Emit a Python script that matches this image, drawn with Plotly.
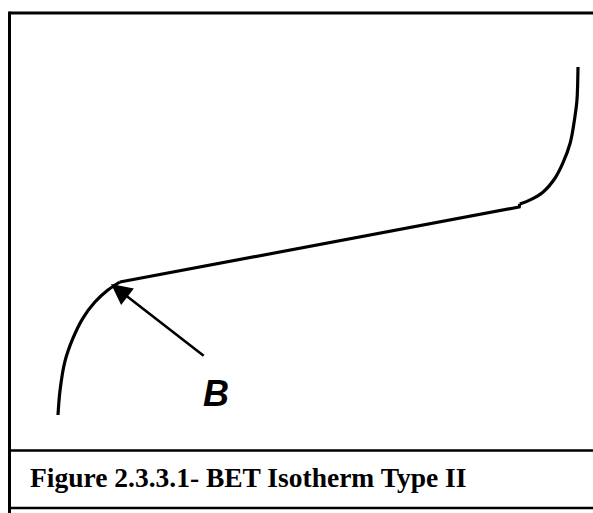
import plotly.graph_objects as go

# Relative pressure P/P0 and adsorbed amount (in monolayer units, B = 1)
p_low = [0.000, 0.004, 0.013, 0.029, 0.048, 0.071, 0.096, 0.119]
v_low = [0.000, 0.188, 0.398, 0.579, 0.729, 0.850, 0.940, 1.000]

p_mid = [0.119, 0.887, 0.888]
v_mid = [1.000, 1.564, 1.586]

p_high = [0.888, 0.908, 0.933, 0.956, 0.971, 0.985, 0.994, 0.998, 1.000]
v_high = [1.586, 1.617, 1.677, 1.782, 1.895, 2.045, 2.241, 2.368, 2.617]

point_b = (0.102, 0.985)
label_b = (0.303, 0.158)
arrow_tail = (0.283, 0.436)
caption = "Figure 2.3.3.1- BET Isotherm Type II"

W, H = 593, 513
fig = go.Figure()
line = dict(color="black", width=3.2)
fig.add_trace(go.Scatter(x=p_low, y=v_low, mode="lines", line=dict(color="black", width=3.2, shape="spline"), hoverinfo="skip"))
fig.add_trace(go.Scatter(x=p_mid, y=v_mid, mode="lines", line=line, hoverinfo="skip"))
fig.add_trace(go.Scatter(x=p_high, y=v_high, mode="lines", line=dict(color="black", width=3.2, shape="spline"), hoverinfo="skip"))

fig.add_annotation(x=point_b[0], y=point_b[1], xref="x", yref="y",
                   ax=arrow_tail[0], ay=arrow_tail[1], axref="x", ayref="y",
                   showarrow=True, arrowhead=2, arrowsize=1.6, arrowwidth=2.6,
                   arrowcolor="black", text="")
fig.add_annotation(x=label_b[0], y=label_b[1], xref="x", yref="y", showarrow=False,
                   text="<b><i>B</i></b>",
                   font=dict(family="Liberation Sans, Arial", size=36, color="black"))
fig.add_annotation(x=28 / W, y=1 - 477 / H, xref="paper", yref="paper", showarrow=False,
                   xanchor="left", yanchor="middle", text="<b>" + caption + "</b>",
                   font=dict(family="Liberation Serif, Times New Roman", size=27.5, color="black"))

def hline(y, w):
    return dict(type="line", xref="paper", yref="paper", x0=9.5 / W, x1=1.01,
                y0=1 - y / H, y1=1 - y / H, line=dict(color="black", width=w))

fig.update_layout(
    width=W, height=H, margin=dict(l=0, r=0, t=0, b=0),
    paper_bgcolor="white", plot_bgcolor="white", showlegend=False,
    xaxis=dict(range=[-58 / 520, 535 / 520], visible=False, fixedrange=True),
    yaxis=dict(range=[(415 - 513) / 133, 415 / 133], visible=False, fixedrange=True),
    shapes=[
        hline(13, 3), hline(450.5, 2.5), hline(508, 2.5),
        dict(type="line", xref="paper", yref="paper", x0=9.5 / W, x1=9.5 / W,
             y0=-0.01, y1=1 - 11.5 / H, line=dict(color="black", width=3)),
    ],
)
fig.write_html("out.html", config={"displayModeBar": False},
               post_script="document.body.style.margin='0';document.body.style.overflow='hidden';")
